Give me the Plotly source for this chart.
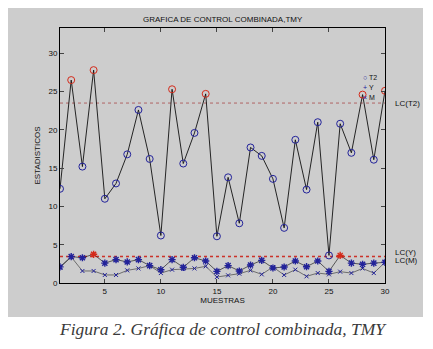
import plotly.graph_objects as go

muestras = list(range(1, 31))
t2 = [12.3, 26.5, 15.2, 27.8, 11.0, 13.0, 16.8, 22.6, 16.2, 6.2,
      25.3, 15.6, 19.6, 24.7, 6.1, 13.8, 7.8, 17.7, 16.6, 13.6,
      7.2, 18.7, 12.2, 21.0, 3.6, 20.8, 17.0, 24.6, 16.1, 25.1]
y_est = [2.1, 3.45, 3.3, 3.75, 2.6, 3.05, 2.75, 3.05, 2.27, 1.74,
         3.05, 2.05, 3.3, 2.87, 1.52, 2.27, 1.57, 2.35, 2.96, 1.96,
         2.09, 2.87, 2.13, 2.87, 1.52, 3.6, 2.6, 2.44, 2.6, 2.7]
m_est = [2.0, 3.4, 1.57, 1.57, 1.05, 1.05, 1.65, 1.9, 2.27, 1.3,
         1.74, 1.83, 1.9, 2.18, 0.78, 1.0, 1.22, 1.65, 1.13, 2.09,
         1.05, 1.74, 0.87, 1.3, 1.13, 1.48, 1.3, 1.9, 1.3, 2.7]
lc_t2 = 23.5
lc_y = 3.5
lc_m = 3.42
x_ticks = [5, 10, 15, 20, 25, 30]
y_ticks = [0, 5, 10, 15, 20, 25, 30]
legend_names = ["T2", "Y", "M"]
legend_symbols = ["○", "+", "×"]
legend_y = [26.8, 25.5, 24.2]

BLUE = "#22229a"
RED = "#d42a1a"
FONT = "Liberation Sans"

t2_cols = [RED if v > lc_t2 else BLUE for v in t2]
y_cols = [RED if v > lc_y else BLUE for v in y_est]

fig = go.Figure()

fig.add_trace(go.Scatter(x=[muestras[0], muestras[-1]], y=[lc_t2, lc_t2], mode="lines",
                         line=dict(color="#a84848", width=0.8, dash="dot"),
                         showlegend=False, hoverinfo="skip"))
for lv in (lc_y, lc_m):
    fig.add_trace(go.Scatter(x=[muestras[0], muestras[-1]], y=[lv, lv], mode="lines",
                             line=dict(color="#cc2a20", width=1.1, dash="dot"),
                             showlegend=False, hoverinfo="skip"))

fig.add_trace(go.Scatter(x=muestras, y=m_est, mode="lines+markers",
                         line=dict(color="#444444", width=0.7),
                         marker=dict(symbol="x-thin-open", size=4, color=BLUE,
                                     line=dict(width=1)),
                         showlegend=False))
fig.add_trace(go.Scatter(x=muestras, y=y_est, mode="lines+markers",
                         line=dict(color="#222222", width=0.7),
                         marker=dict(symbol="asterisk-open", size=6, color=y_cols,
                                     line=dict(width=1.4)),
                         showlegend=False))
fig.add_trace(go.Scatter(x=muestras, y=t2, mode="lines+markers",
                         line=dict(color="#111111", width=0.9),
                         marker=dict(symbol="circle-open", size=7, color=t2_cols,
                                     line=dict(width=1)),
                         showlegend=False))

def txt(text, **kw):
    d = dict(text=text, showarrow=False, font=dict(family=FONT, size=8, color="#111111"))
    d.update(kw)
    return d

annotations = [
    txt("GRAFICA DE CONTROL COMBINADA,TMY", x=0.5, y=1.0, xref="paper", yref="paper",
        yshift=9, xanchor="center", yanchor="middle"),
    txt("LC(T2)", x=1.0, y=lc_t2, xref="paper", yref="y", xshift=8,
        xanchor="left", yanchor="middle"),
    txt("LC(Y)", x=1.0, y=lc_y, xref="paper", yref="y", xshift=8, yshift=4,
        xanchor="left", yanchor="middle"),
    txt("LC(M)", x=1.0, y=lc_m, xref="paper", yref="y", xshift=8, yshift=-4,
        xanchor="left", yanchor="middle"),
    dict(text="Figura 2. Gráfica de control combinada, TMY", x=0.5, y=-0.18,
         xref="paper", yref="paper", xanchor="center", yanchor="middle",
         showarrow=False,
         font=dict(family="Liberation Serif", size=17.5, color="#3a3a3a", style="italic")),
]
for sym, name, yy in zip(legend_symbols, legend_names, legend_y):
    annotations.append(txt(f"<span style='color:{BLUE}'>{sym}</span> {name}",
                           x=0.928, y=yy, xref="paper", yref="y",
                           xanchor="left", yanchor="middle", borderpad=0,
                           font=dict(family=FONT, size=7, color="#111111")))

# page body has an 8px default margin; figure is sized/placed to compensate
fig.update_layout(
    width=425, height=341,
    margin=dict(l=52, r=48, t=20, b=66),
    paper_bgcolor="white",
    plot_bgcolor="white",
    font=dict(family=FONT, size=8, color="#111111"),
    annotations=annotations,
    shapes=[dict(type="rect", xref="paper", yref="paper", layer="below",
                 x0=-55 / 325, x1=363 / 325, y0=-34 / 255, y1=(255 + 25) / 255,
                 fillcolor="#cdcdcd", line=dict(width=0))],
    xaxis=dict(range=[1, 30], tickvals=x_ticks, ticks="inside", ticklen=4,
               showline=True, linecolor="black", linewidth=1, mirror="ticks",
               showgrid=False, zeroline=False,
               title=dict(text="MUESTRAS", font=dict(size=8), standoff=2),
               tickfont=dict(size=8)),
    yaxis=dict(range=[0, 33.3], tickvals=y_ticks, ticks="inside", ticklen=4,
               showline=True, linecolor="black", linewidth=1, mirror="ticks",
               showgrid=False, zeroline=False,
               title=dict(text="ESTADISTICOS", font=dict(size=8), standoff=6),
               tickfont=dict(size=8)),
)

fig.write_html("out.html")
